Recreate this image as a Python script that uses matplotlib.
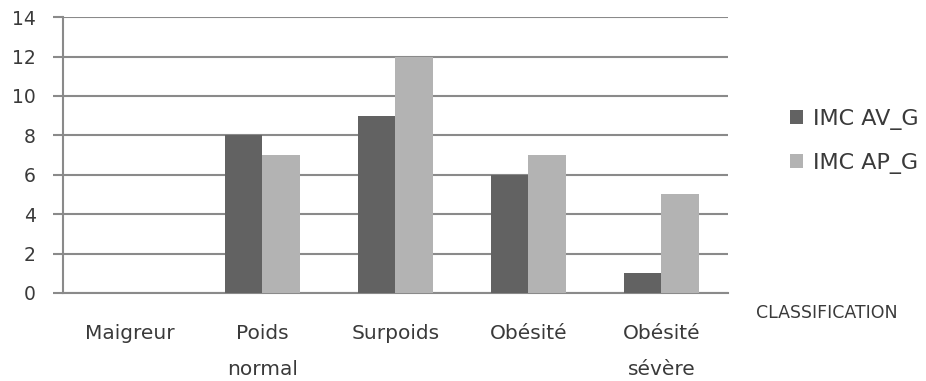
import matplotlib
matplotlib.use("Agg")
import matplotlib.pyplot as plt
import numpy as np

categories = ["Maigreur", "Poids\nnormal", "Surpoids", "Obésité", "Obésité\nsévère"]
imc_av_g = [0, 8, 9, 6, 1]
imc_ap_g = [0, 7, 12, 7, 5]
series_names = ["IMC AV_G", "IMC AP_G"]
y_ticks = [0, 2, 4, 6, 8, 10, 12, 14]

plt.rcParams["font.family"] = ["DejaVu Sans"]

fig = plt.figure(figsize=(9.26, 3.81), dpi=100)
ax = fig.add_axes([0.068, 0.231, 0.718, 0.724])

x = np.arange(len(categories))
w = 0.28
grid_c = "#8a8a8a"
txt_c = "#3a3a3a"
ax.bar(x - w / 2, imc_av_g, width=w, color="#626262", label=series_names[0], zorder=3)
ax.bar(x + w / 2, imc_ap_g, width=w, color="#b3b3b3", label=series_names[1], zorder=3)

ax.set_xlim(-0.5, len(categories) - 0.5)
ax.set_ylim(0, 14)
ax.set_yticks(y_ticks)
ax.yaxis.grid(True, color=grid_c, linewidth=1.5, zorder=0)
ax.set_axisbelow(True)

for s in ["top", "right"]:
    ax.spines[s].set_visible(False)
ax.spines["left"].set_color(grid_c)
ax.spines["left"].set_linewidth(1.5)
ax.spines["bottom"].set_color(grid_c)
ax.spines["bottom"].set_linewidth(1.5)

ax.tick_params(axis="y", length=7.5, width=1.5, color=grid_c, pad=12,
               labelsize=13.5, labelcolor=txt_c)
ax.tick_params(axis="x", length=0, pad=22.5, labelsize=14.5, labelcolor=txt_c)
ax.set_xticks(x)
ax.set_xticklabels(categories, linespacing=2.1, va="top")

leg = ax.legend(loc="upper left", frameon=False,
                handlelength=0.6, handleheight=0.6, handletextpad=0.45,
                labelspacing=1.05, fontsize=16, borderaxespad=0.0,
                borderpad=0.0)
for t in leg.get_texts():
    t.set_color(txt_c)
leg.set_bbox_to_anchor((0.853, 0.715), transform=fig.transFigure)

fig.text(0.893, 0.178, "CLASSIFICATION", fontsize=12.5, color=txt_c,
         ha="center", va="center")

fig.savefig("out.png", dpi=100, facecolor="white")
